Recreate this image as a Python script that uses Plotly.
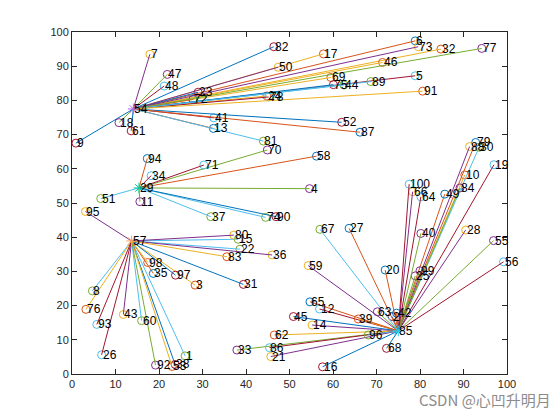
import plotly.graph_objects as go

point_ids = list(range(1, 101))
x_vals = [26.0, 73.6, 28.3, 54.6, 78.9, 78.9, 17.9, 4.7, 0.9, 90.3,
          15.6, 56.9, 32.5, 55.2, 38.2, 57.6, 57.8, 10.8, 97.0, 72.0,
          45.7, 38.6, 29.0, 44.8, 78.9, 6.8, 63.7, 90.5, 15.4, 93.6,
          39.4, 84.8, 37.9, 18.2, 18.7, 46.0, 31.9, 23.7, 65.8, 80.2,
          32.6, 74.6, 11.8, 62.5, 50.9, 71.4, 21.9, 21.2, 85.7, 47.4,
          6.6, 62.0, 23.0, 14.1, 96.9, 99.2, 13.7, 56.2, 54.3, 16.0,
          13.6, 46.5, 70.2, 80.2, 54.7, 78.3, 57.0, 72.3, 59.5, 44.9,
          30.3, 27.8, 79.6, 44.5, 60.1, 3.2, 94.2, 45.2, 92.8, 37.2,
          44.0, 46.4, 35.6, 89.2, 75.0, 45.4, 66.2, 91.4, 68.7, 46.9,
          80.6, 19.2, 5.7, 17.3, 3.1, 68.1, 23.8, 17.4, 80.0, 77.5]
y_vals = [5.3, 16.8, 26.0, 54.2, 87.2, 97.4, 93.5, 24.3, 67.5, 58.2,
          50.4, 19.0, 71.8, 14.3, 39.4, 2.1, 93.6, 73.5, 61.2, 30.4,
          5.1, 36.5, 82.4, 81.3, 28.7, 5.6, 42.6, 42.1, 54.4, 66.3,
          26.2, 95.0, 7.0, 58.0, 29.4, 34.8, 46.0, 2.8, 16.1, 41.1,
          74.9, 17.8, 17.4, 84.5, 16.8, 91.1, 87.6, 84.2, 52.6, 89.7,
          51.3, 73.6, 2.2, 77.5, 39.0, 32.8, 38.9, 63.7, 31.7, 15.6,
          71.1, 11.4, 18.2, 51.8, 21.1, 53.3, 42.3, 7.5, 86.7, 65.5,
          61.1, 80.3, 95.7, 45.8, 84.6, 18.9, 95.2, 81.0, 67.7, 40.6,
          68.1, 95.7, 34.3, 54.4, 12.6, 7.7, 70.7, 66.5, 85.5, 46.0,
          82.7, 2.6, 14.5, 63.0, 47.5, 11.4, 28.9, 32.6, 30.2, 55.5]

hub_ids = [29, 54, 57, 85]
members_29 = [4, 11, 34, 37, 51, 58, 70, 71, 74, 90, 94]
members_54 = [5, 6, 7, 9, 13, 17, 18, 23, 24, 32, 41, 44, 46, 47, 48, 50, 52,
              61, 69, 72, 73, 75, 77, 78, 81, 82, 87, 89, 91]
members_57 = [1, 3, 8, 15, 22, 26, 31, 35, 36, 38, 43, 53, 60, 76, 80, 83,
              92, 93, 95, 97, 98]
members_85 = [2, 10, 12, 14, 16, 19, 20, 21, 25, 27, 28, 30, 33, 39, 40, 42,
              45, 49, 55, 56, 59, 62, 63, 64, 65, 66, 67, 68, 79, 84, 86, 88,
              96, 99, 100]

hub_of = {}
for h, mem in zip(hub_ids, [members_29, members_54, members_57, members_85]):
    for m in mem:
        hub_of[m] = h

colors = ['#0072BD', '#D95319', '#EDB120', '#7E2F8E', '#77AC30', '#4DBEEE', '#A2142F']
hub_colors = {29: '#0072BD', 54: '#D95319', 57: '#EDB120', 85: '#D95319'}

fig = go.Figure()
k = 4
for pid in point_ids:
    if pid in hub_ids:
        continue
    i = pid - 1
    cc = colors[k % 7]
    lc = colors[(k + 1) % 7]
    k += 2
    fig.add_trace(go.Scatter(x=[x_vals[i]], y=[y_vals[i]], mode='markers',
                             marker=dict(symbol='circle-open', size=8, color=cc,
                                         line=dict(width=1, color=cc)),
                             hoverinfo='skip'))
    h = hub_of[pid] - 1
    fig.add_trace(go.Scatter(x=[x_vals[h], x_vals[i]], y=[y_vals[h], y_vals[i]],
                             mode='lines', line=dict(color=lc, width=1),
                             hoverinfo='skip'))

for h in hub_ids:
    fig.add_trace(go.Scatter(x=[x_vals[h - 1]], y=[y_vals[h - 1]], mode='markers',
                             marker=dict(symbol='asterisk-open', size=9,
                                         line=dict(width=1, color=hub_colors[h])),
                             hoverinfo='skip'))

annotations = []
for pid in point_ids:
    annotations.append(dict(x=x_vals[pid - 1], y=y_vals[pid - 1], text=str(pid),
                            xref='x', yref='y', xanchor='left', yanchor='middle',
                            showarrow=False, borderpad=0,
                            font=dict(family='Liberation Sans, Arial', size=12,
                                      color='#000000')))
annotations.append(dict(x=1.106, y=-0.076, xref='paper', yref='paper',
                        text='CSDN @心凹升明月', showarrow=False,
                        xanchor='right', yanchor='middle',
                        font=dict(family='Noto Sans CJK SC', size=15, color='#8c8c8c')))

axis_common = dict(range=[0, 100], dtick=10, tick0=0, showgrid=False, zeroline=False,
                   showline=True, linecolor='#262626', linewidth=1, mirror='ticks',
                   ticks='inside', ticklen=5, tickcolor='#262626',
                   tickfont=dict(family='Liberation Sans, Arial', size=11, color='#262626'))

fig.update_layout(width=560, height=420, showlegend=False,
                  paper_bgcolor='white', plot_bgcolor='white',
                  margin=dict(l=64, r=61, t=24, b=54),
                  xaxis=axis_common, yaxis=axis_common,
                  annotations=annotations)

fig.write_html('out.html')
